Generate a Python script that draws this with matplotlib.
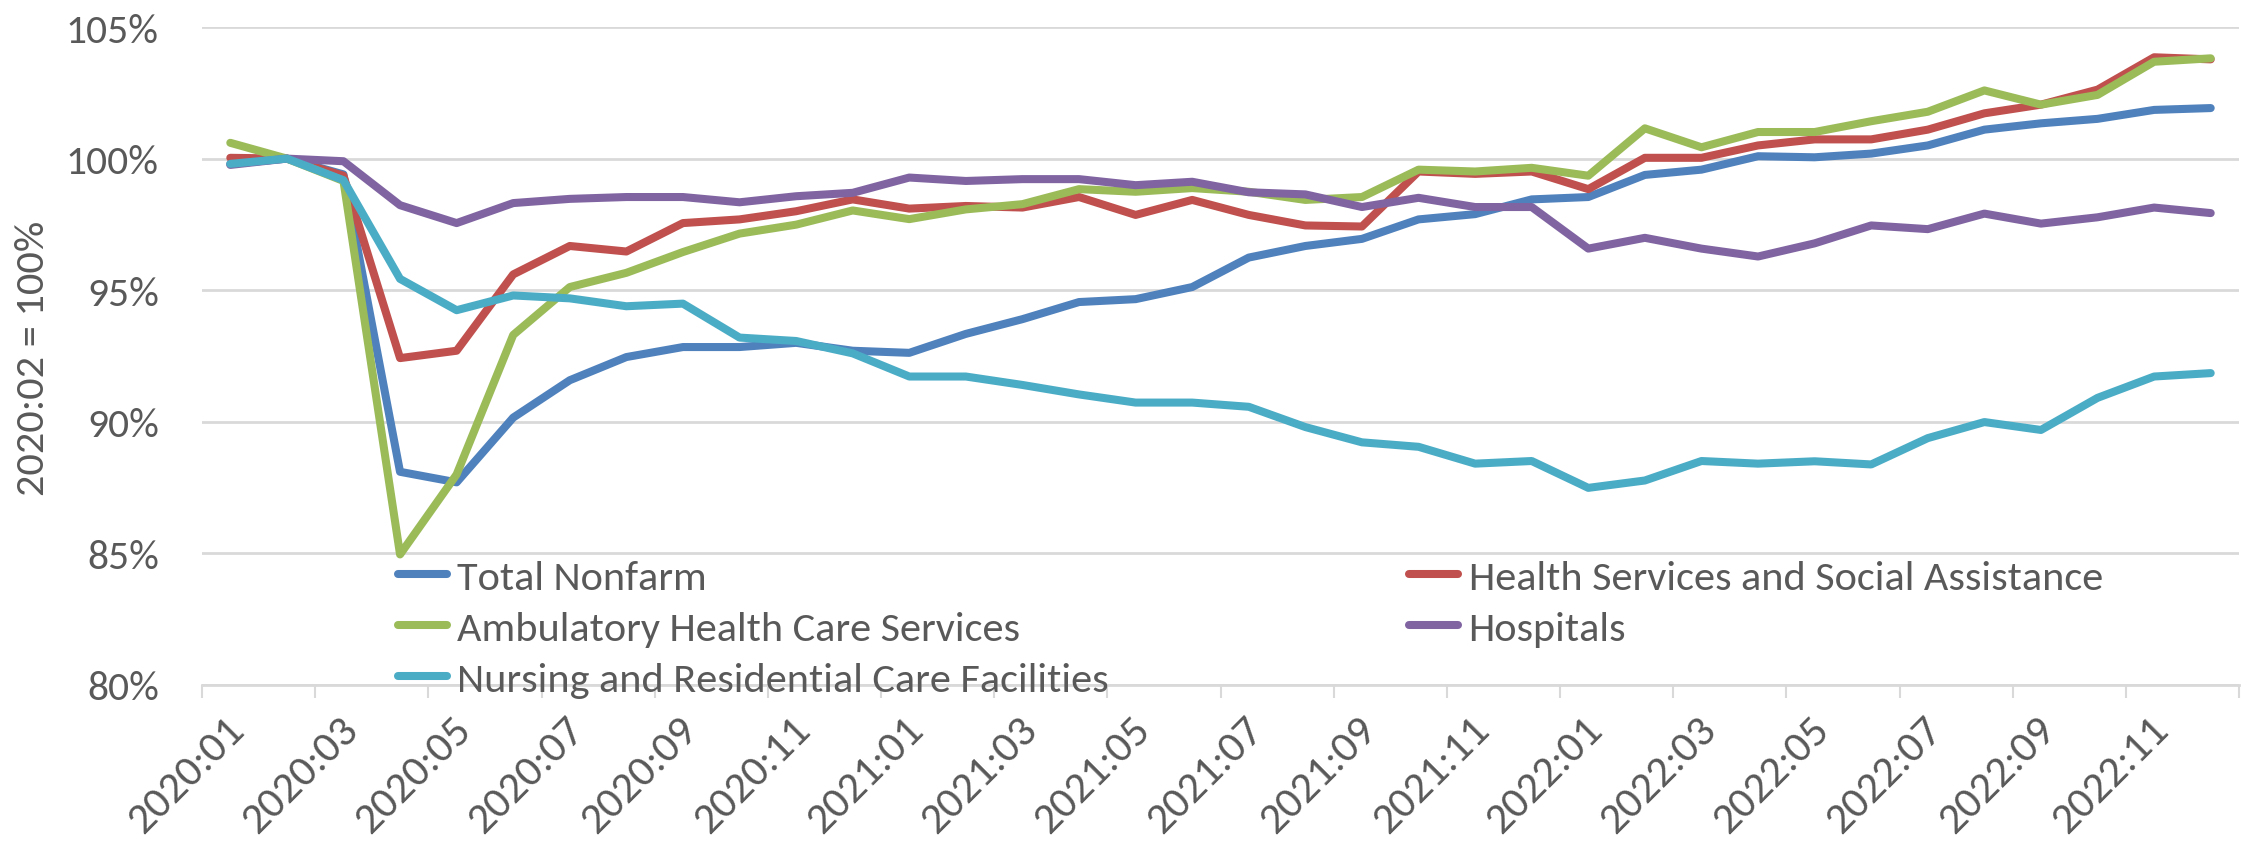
import matplotlib
matplotlib.use("Agg")
import matplotlib.pyplot as plt
import matplotlib.transforms as mtransforms
from matplotlib.ticker import FixedLocator, FuncFormatter
import numpy as np

months = [f"{y}:{m:02d}" for y in (2020, 2021, 2022) for m in range(1, 13)]

total_nonfarm = [99.8, 100.0, 99.4, 88.1, 87.7, 90.16, 91.58, 92.46, 92.84,
                 92.84, 93.0, 92.7, 92.62, 93.34, 93.9, 94.55, 94.66, 95.12,
                 96.24, 96.68, 96.95, 97.69, 97.89, 98.45, 98.54, 99.38, 99.58,
                 100.09, 100.05, 100.19, 100.5, 101.1, 101.34, 101.51, 101.85, 101.92]
health_social = [100.03, 100.0, 99.35, 92.42, 92.7, 95.6, 96.68, 96.47, 97.55,
                 97.69, 98.0, 98.45, 98.1, 98.2, 98.14, 98.54, 97.86, 98.43,
                 97.86, 97.46, 97.42, 99.51, 99.42, 99.51, 98.84, 100.03, 100.03,
                 100.5, 100.73, 100.73, 101.1, 101.72, 102.05, 102.62, 103.85, 103.77]
ambulatory = [100.6, 100.0, 99.15, 84.96, 88.0, 93.3, 95.12, 95.66, 96.45,
              97.15, 97.49, 98.03, 97.7, 98.07, 98.27, 98.84, 98.74, 98.88,
              98.74, 98.43, 98.54, 99.58, 99.51, 99.65, 99.35, 101.15, 100.43,
              101.01, 101.01, 101.42, 101.78, 102.59, 102.05, 102.42, 103.68, 103.81]
hospitals = [99.76, 100.0, 99.9, 98.23, 97.55, 98.31, 98.47, 98.54, 98.54,
             98.34, 98.57, 98.7, 99.28, 99.15, 99.22, 99.22, 98.99, 99.12,
             98.72, 98.64, 98.16, 98.51, 98.16, 98.16, 96.58, 96.99, 96.58,
             96.28, 96.78, 97.46, 97.32, 97.91, 97.53, 97.77, 98.14, 97.93]
nursing = [99.8, 100.0, 99.18, 95.43, 94.24, 94.8, 94.69, 94.39, 94.49,
           93.2, 93.07, 92.6, 91.72, 91.72, 91.4, 91.04, 90.73, 90.73,
           90.57, 89.8, 89.22, 89.05, 88.41, 88.51, 87.49, 87.77, 88.51,
           88.41, 88.5, 88.38, 89.38, 89.99, 89.69, 90.91, 91.72, 91.85]

series = [
    ("Total Nonfarm", total_nonfarm, "#4F81BD"),
    ("Ambulatory Health Care Services", ambulatory, "#9BBB59"),
    ("Nursing and Residential Care Facilities", nursing, "#4BACC6"),
    ("Health Services and Social Assistance", health_social, "#C0504D"),
    ("Hospitals", hospitals, "#8064A2"),
]
draw_order = [0, 3, 1, 4, 2]

TXT = "#595959"
GRID = "#D9D9D9"
FAM = ['Carlito', 'Lato', 'DejaVu Sans']
plt.rcParams['font.family'] = FAM

W, H = 2247, 845
fig = plt.figure(figsize=(W / 100, H / 100), dpi=100)
renderer = fig.canvas.get_renderer()


def fit_size(text, target_px):
    t = fig.text(0, 0, text, fontsize=20)
    w = t.get_window_extent(renderer).width
    t.remove()
    return 20 * target_px / w


fs_leg = fit_size("Nursing and Residential Care Facilities", 652)
fs_ytick = fit_size("105%", 93)
fs_xtick = fit_size("2020:01", 146)
fs_ylab = fit_size("2020:02 = 100%", 275)

ax = fig.add_axes([202 / W, 1 - 686 / H, (2239 - 202) / W, (686 - 28) / H])

x = np.arange(len(months))
handles = {}
for k in draw_order:
    name, vals, col = series[k]
    h, = ax.plot(x, vals, color=col, lw=5.8, solid_joinstyle='round',
                 solid_capstyle='round', label=name, zorder=3)
    handles[k] = h

ax.set_xlim(-0.5, len(months) - 0.5)
ax.set_ylim(80, 105)
ax.set_yticks([80, 85, 90, 95, 100, 105])
ax.yaxis.set_major_formatter(FuncFormatter(lambda v, p: f"{v:.0f}%"))
ax.grid(axis='y', color=GRID, lw=2, zorder=0)
for s in ['top', 'right', 'left']:
    ax.spines[s].set_visible(False)
ax.spines['bottom'].set_color(GRID)
ax.spines['bottom'].set_linewidth(2)
ax.tick_params(axis='y', length=0, pad=31, labelsize=fs_ytick, labelcolor=TXT)

ax.set_xticks(x[::2])
ax.set_xticklabels(months[::2])
ax.xaxis.set_minor_locator(FixedLocator(np.arange(-0.5, len(months), 2)))
ax.tick_params(axis='x', which='major', length=0, pad=27, labelsize=fs_xtick, labelcolor=TXT)
ax.tick_params(axis='x', which='minor', length=9, width=1.5, color=GRID)
offset = mtransforms.ScaledTranslation(8 / 100, 0, fig.dpi_scale_trans)
for lab in ax.get_xticklabels():
    lab.set_rotation(45)
    lab.set_ha('right')
    lab.set_va('center')
    lab.set_rotation_mode('anchor')
    lab.set_transform(lab.get_transform() + offset)

fig.text(33 / W, 1 - 358 / H, "2020:02 = 100%", rotation=90, ha='center', va='center',
         fontsize=fs_ylab, color=TXT)

leg = ax.legend([handles[k] for k in range(5)], [series[k][0] for k in range(5)],
                ncol=2, loc='upper left',
                bbox_to_anchor=(398 / W, 1 - 560 / H), bbox_transform=fig.transFigure,
                frameon=False, fontsize=fs_leg, handlelength=1.15, handletextpad=0.25,
                labelspacing=0.34, columnspacing=7.1, borderpad=0, borderaxespad=0)
for t in leg.get_texts():
    t.set_color(TXT)

fig.savefig("out.png", dpi=100)
